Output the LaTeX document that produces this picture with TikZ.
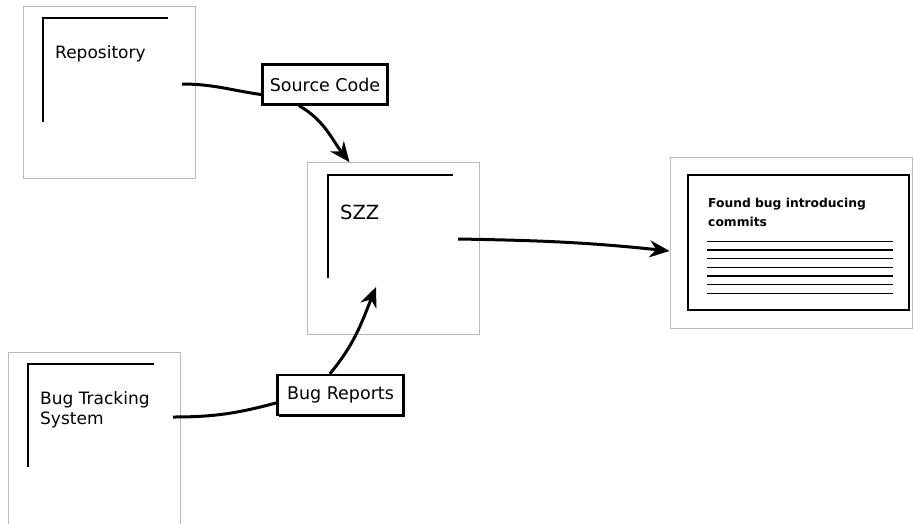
\documentclass[tikz,border=0pt]{standalone}
\usepackage{fontspec}
\setmainfont{DejaVu Sans}
\usetikzlibrary{arrows.meta,positioning,shadows}

\tikzset{
	pane/.style={draw=black!27, line width=0.8pt, fill=white, minimum width=172pt, minimum height=172pt, inner sep=0pt},
	corner/.style={line width=1.6pt},
	title/.style={anchor=base west, inner sep=0pt, font=\fontsize{17}{20}\selectfont},
	tag/.style={draw, line width=2.2pt, fill=white, minimum height=40pt, inner xsep=6pt, font=\fontsize{17.5}{20}\selectfont,
		drop shadow={shadow xshift=1.5pt, shadow yshift=-1.5pt, opacity=1, fill=black}},
	feed/.style={line width=3pt},
	flow/.style={line width=3pt, -{Stealth[length=20pt, width=17pt]}},
	entry/.style={line width=1.5pt},
}

\begin{document}
\begin{tikzpicture}[x=1pt, y=-1pt]
	\useasboundingbox (0,0) rectangle (913,523);
	%Outer panes
	\node [pane] (repo) at (109,92.5) {};
	\node [pane] (szz) at (393.5,248.5) {};
	\node [pane, minimum width=242pt, minimum height=171pt] (out) at (791,242.5) {};
	\node [pane] (bts) at (94,438) {};
	%Corner brackets inside the panes
	\draw [corner] (43,122) |- (168,18);
	\draw [corner] (328,278) |- (453,175);
	\draw [corner] (28,467) |- (154,364);
	%Titles
	\node [title] (repotitle) at (55,58) {Repository};
	\node [title, font=\fontsize{19.5}{22}\selectfont] (szztitle) at (340,219) {SZZ};
	\node [title, align=left] (btstitle) at (40,424) {Bug Tracking\\System};
	%The list of found commits
	\node [draw, line width=2.2pt, minimum width=221pt, minimum height=135pt, inner sep=0pt] (list) at (798.5,242.5) {};
	\node [title, align=left, font=\bfseries\fontsize{12.3}{19}\selectfont] (listtitle) at (708,226) {Found bug introducing\\commits};
	\foreach \y in {241.5,250,258.7,267.3,276,284.7,293.3} {
		\draw [entry] (707,\y) -- (893,\y);
	}
	%Labels on the connectors
	\node [tag, minimum width=125pt] (srctag) at (325,84.5) {Source Code};
	\node [tag, minimum width=126pt] (bugtag) at (340.5,395) {Bug Reports};
	%Free ends of the connectors
	\coordinate (repoout) at (182,84);
	\coordinate (btsout) at (173,417);
	\coordinate (szzin) at (376,287);
	\coordinate (szzout) at (458,239);
	%Connectors
	\draw [feed] (repoout) to[out=0, in=172] (srctag.189);
	\draw [flow] (srctag.219) to[out=-30, in=128] (szz.117);
	\draw [feed] (btsout) to[out=0, in=195] (bugtag.187);
	\draw [flow] (bugtag.117) to[out=50, in=-112] (szzin);
	\draw [flow] (szzout) to[out=-1, in=174] (out.184);
\end{tikzpicture}
\end{document}
